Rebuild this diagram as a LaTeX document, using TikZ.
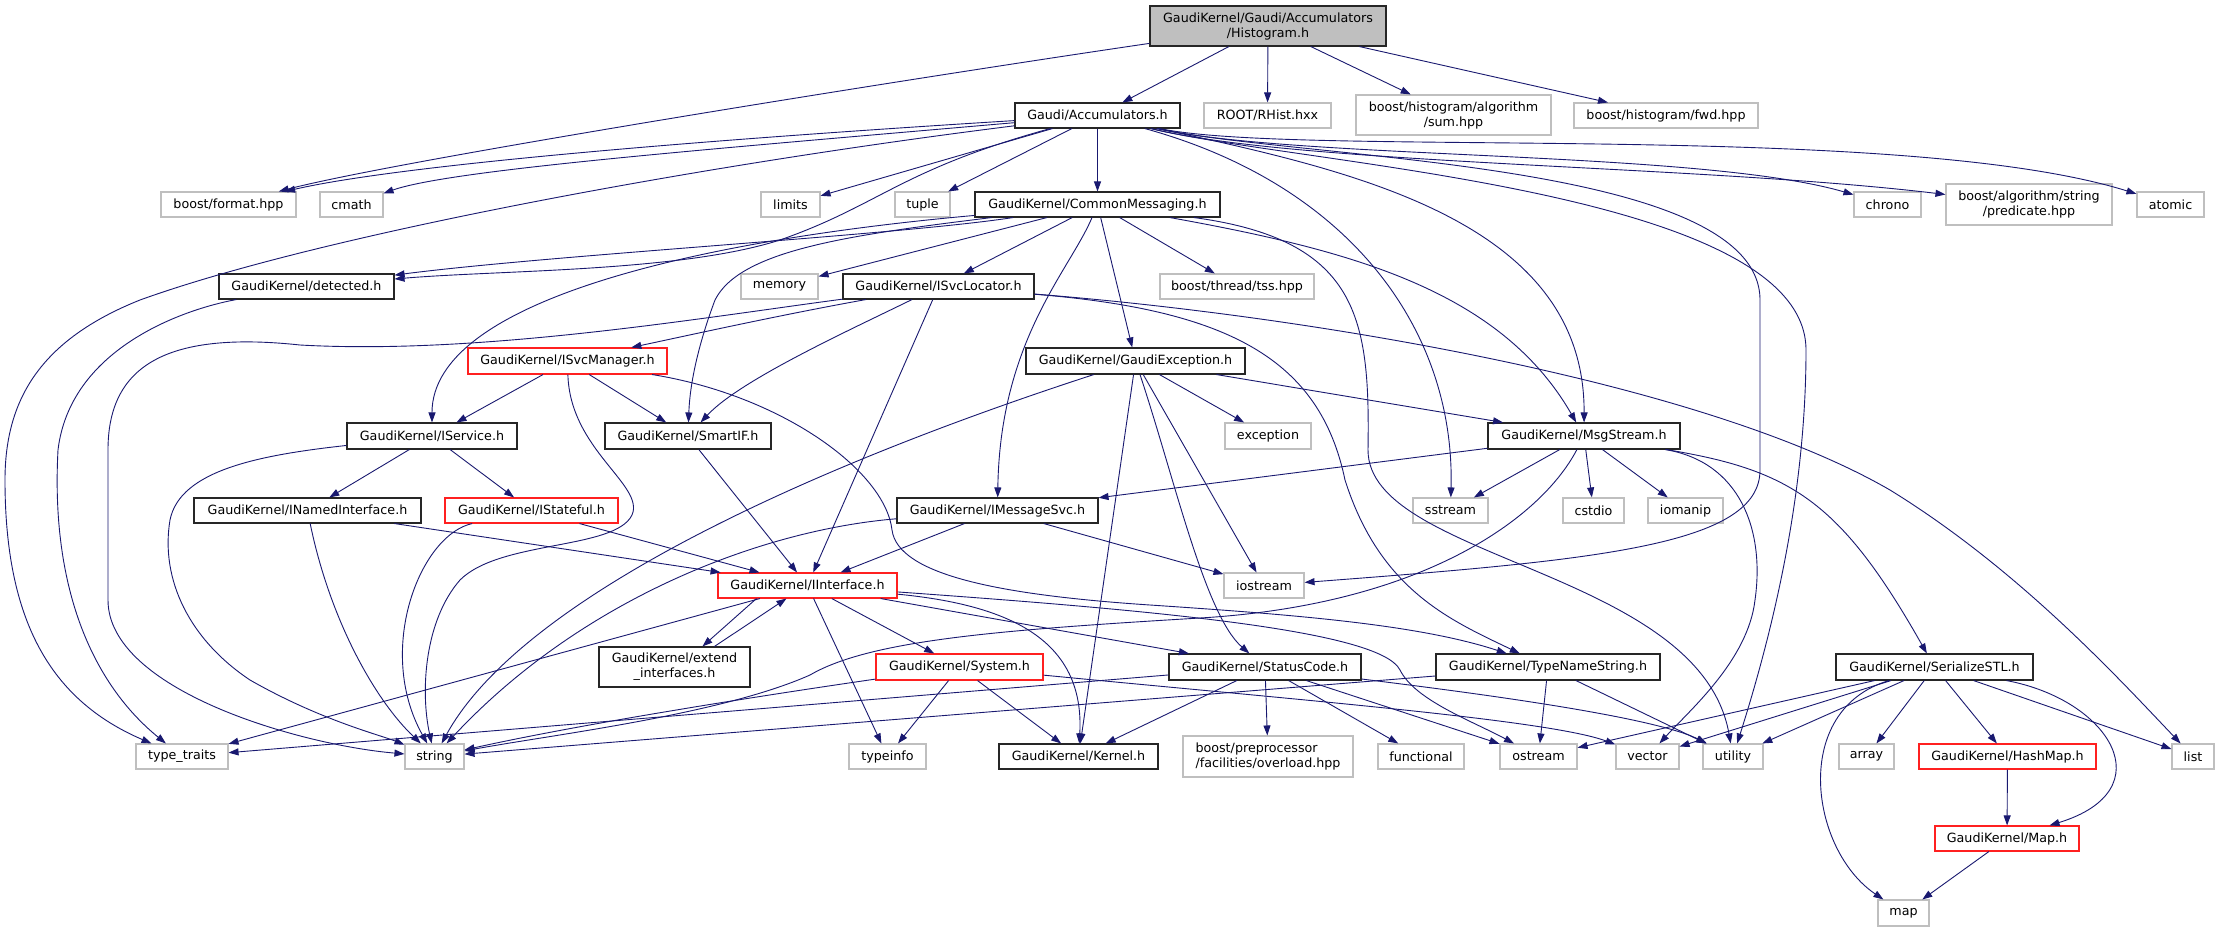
\documentclass[tikz,border=0pt]{standalone}
\usepackage{fontspec}
\setmainfont{DejaVu Sans}
\usetikzlibrary{arrows.meta}
\definecolor{midblue}{HTML}{191970}
\definecolor{grayl}{HTML}{BFBFBF}
\definecolor{redl}{HTML}{FF2020}
\newcommand\nd[7]{%
  \pgfmathsetmacro\ndw{#3-#2}%
  \pgfmathsetmacro\ndh{#5-#4}%
  \node[#6, minimum width=\ndw pt, minimum height=\ndh pt] (#1) at ({(#2+#3)/2},{(#4+#5)/2}) {#7};}
\tikzset{
  nbase/.style={draw, line width=1.1pt, inner sep=0pt, fill=white, font=\fontsize{12.7}{15}\selectfont},
  blk/.style={nbase, draw=black!85},
  gry/.style={nbase, draw=grayl},
  redb/.style={nbase, draw=redl},
  rootb/.style={nbase, draw=black!85, fill=grayl},
  conn/.style={draw=midblue, line width=0.9pt, -{Triangle[length=10pt,width=7pt]}},
}
\begin{document}
\begin{tikzpicture}[x=1pt,y=-1pt]
\fill[white] (0,0) rectangle (2220,932);
\useasboundingbox (0,0) rectangle (2220,932);
% nodes
\nd{hist}{1150}{1386}{6}{46}{rootb,align=center}{GaudiKernel/Gaudi/Accumulators\\/Histogram.h}
\nd{acc}{1015}{1180}{103}{128}{blk}{Gaudi/Accumulators.h}
\nd{rhist}{1204}{1331}{103}{128}{gry}{ROOT/RHist.hxx}
\nd{sum}{1356}{1551}{95}{135}{gry,align=center}{boost/histogram/algorithm\\/sum.hpp}
\nd{fwd}{1574}{1758}{103}{128}{gry}{boost/histogram/fwd.hpp}
\nd{format}{161}{296}{192}{217}{gry}{boost/format.hpp}
\nd{cmath}{320}{383}{192}{217}{gry}{cmath}
\nd{limits}{761}{820}{192}{217}{gry}{limits}
\nd{tuple}{895}{950}{192}{217}{gry}{tuple}
\nd{cm}{975}{1220}{192}{217}{blk}{GaudiKernel/CommonMessaging.h}
\nd{chrono}{1854}{1921}{192}{217}{gry}{chrono}
\nd{pred}{1946}{2112}{184}{225}{gry,align=center}{boost/algorithm/string\\/predicate.hpp}
\nd{atomic}{2137}{2204}{192}{217}{gry}{atomic}
\nd{detected}{219}{394}{274}{299}{blk}{GaudiKernel/detected.h}
\nd{memory}{741}{818}{274}{299}{gry}{memory}
\nd{isl}{843}{1034}{274}{299}{blk}{GaudiKernel/ISvcLocator.h}
\nd{tss}{1160}{1314}{274}{299}{gry}{boost/thread/tss.hpp}
\nd{ism}{468}{667}{348}{374}{redb}{GaudiKernel/ISvcManager.h}
\nd{gex}{1026}{1245}{348}{374}{blk}{GaudiKernel/GaudiException.h}
\nd{iservice}{347}{517}{423}{449}{blk}{GaudiKernel/IService.h}
\nd{smartif}{605}{771}{423}{449}{blk}{GaudiKernel/SmartIF.h}
\nd{exception}{1225}{1311}{423}{449}{gry}{exception}
\nd{msgstream}{1488}{1680}{423}{449}{blk}{GaudiKernel/MsgStream.h}
\nd{inamed}{194}{421}{498}{523}{blk}{GaudiKernel/INamedInterface.h}
\nd{istateful}{445}{618}{498}{523}{redb}{GaudiKernel/IStateful.h}
\nd{imsg}{897}{1098}{498}{523}{blk}{GaudiKernel/IMessageSvc.h}
\nd{sstream}{1413}{1488}{498}{523}{gry}{sstream}
\nd{cstdio}{1563}{1624}{498}{523}{gry}{cstdio}
\nd{iomanip}{1648}{1723}{498}{523}{gry}{iomanip}
\nd{iinterface}{718}{897}{573}{598}{redb}{GaudiKernel/IInterface.h}
\nd{iostream}{1224}{1304}{573}{598}{gry}{iostream}
\nd{extend}{599}{750}{647}{687}{blk,align=center}{GaudiKernel/extend\\\_interfaces.h}
\nd{system}{876}{1043}{654}{680}{redb}{GaudiKernel/System.h}
\nd{statuscode}{1169}{1361}{654}{680}{blk}{GaudiKernel/StatusCode.h}
\nd{tns}{1436}{1660}{654}{680}{blk}{GaudiKernel/TypeNameString.h}
\nd{serial}{1836}{2033}{654}{680}{blk}{GaudiKernel/SerializeSTL.h}
\nd{ttraits}{136}{228}{744}{769}{gry}{type\_traits}
\nd{str}{405}{464}{744}{769}{gry}{string}
\nd{typeinfo}{849}{926}{744}{769}{gry}{typeinfo}
\nd{kernel}{999}{1158}{744}{769}{blk}{GaudiKernel/Kernel.h}
\nd{overload}{1183}{1353}{736}{777}{gry,align=left}{boost/preprocessor\\/facilities/overload.hpp}
\nd{functional}{1378}{1464}{744}{769}{gry}{functional}
\nd{ostream}{1500}{1577}{744}{769}{gry}{ostream}
\nd{vector}{1616}{1679}{744}{769}{gry}{vector}
\nd{utility}{1703}{1763}{744}{769}{gry}{utility}
\nd{array}{1839}{1894}{744}{769}{gry}{array}
\nd{hashmap}{1919}{2096}{744}{769}{redb}{GaudiKernel/HashMap.h}
\nd{list}{2172}{2214}{744}{769}{gry}{list}
\nd{maph}{1935}{2079}{826}{851}{redb}{GaudiKernel/Map.h}
\nd{map}{1878}{1929}{900}{926}{gry}{map}
% edges: Histogram.h
\draw[conn] (hist) -- (acc);
\draw[conn] (hist) -- (rhist);
\draw[conn] (hist) -- (sum);
\draw[conn] (hist) -- (fwd);
\draw[conn] (hist) .. controls (900,80) and (400,160) .. (format);
% Accumulators.h
\draw[conn] (acc) .. controls (700,140) and (400,165) .. (format);
\draw[conn] (acc) .. controls (700,150) and (450,170) .. (cmath);
\draw[conn] (acc) -- (limits);
\draw[conn] (acc) -- (tuple);
\draw[conn] (acc) -- (cm);
\draw[conn] (acc) .. controls (900,170) and (880,205) .. (780,240) .. controls (680,272) and (500,270) .. (detected);
\draw[conn] (acc) .. controls (700,165) and (320,235) .. (140,300) .. controls (40,340) and (5,400) .. (5,480) .. controls (5,620) and (50,700) .. (ttraits);
\draw[conn] (acc) .. controls (1350,185) and (1455,330) .. (sstream);
\draw[conn] (acc) .. controls (1350,170) and (1585,220) .. (msgstream);
\draw[conn] (acc) .. controls (1300,160) and (1760,160) .. (1760,300) -- (1760,470) .. controls (1760,545) and (1600,560) .. (iostream);
\draw[conn] (acc) .. controls (1300,165) and (1806,190) .. (1806,350) .. controls (1806,500) and (1770,640) .. (utility);
\draw[conn] (acc) .. controls (1300,160) and (1700,150) .. (chrono);
\draw[conn] (acc) .. controls (1300,165) and (1700,165) .. (pred);
\draw[conn] (acc) .. controls (1300,158) and (1900,120) .. (atomic);
% detected.h
\draw[conn] (detected) .. controls (180,310) and (70,350) .. (58,450) .. controls (50,600) and (100,690) .. (ttraits);
% CommonMessaging.h
\draw[conn] (cm) .. controls (900,235) and (550,255) .. (detected);
\draw[conn] (cm) -- (memory);
\draw[conn] (cm) -- (isl);
\draw[conn] (cm) -- (tss);
\draw[conn] (cm) -- (gex);
\draw[conn] (cm) .. controls (1070,270) and (1000,340) .. (imsg);
\draw[conn] (cm) .. controls (700,240) and (432,300) .. (iservice);
\draw[conn] (cm) .. controls (850,235) and (740,250) .. (715,300) .. controls (700,340) and (690,380) .. (smartif);
\draw[conn] (cm) .. controls (1350,250) and (1500,290) .. (msgstream);
\draw[conn] (cm) .. controls (1360,240) and (1370,320) .. (1368,450) .. controls (1368,560) and (1700,570) .. (utility);
% ISvcLocator.h
\draw[conn] (isl) .. controls (780,315) and (690,335) .. (ism);
\draw[conn] (isl) .. controls (850,330) and (740,380) .. (smartif);
\draw[conn] (isl) -- (iinterface);
\draw[conn] (isl) .. controls (1230,310) and (1320,360) .. (1345,480) .. controls (1380,590) and (1450,620) .. (tns);
\draw[conn] (isl) .. controls (1300,315) and (1700,380) .. (1890,490) .. controls (2020,570) and (2120,680) .. (list);
\draw[conn] (isl) .. controls (700,318) and (480,355) .. (300,345) .. controls (160,330) and (108,370) .. (108,450) -- (108,600) .. controls (108,690) and (300,745) .. (str);
% ISvcManager.h
\draw[conn] (ism) -- (iservice);
\draw[conn] (ism) -- (smartif);
\draw[conn] (ism) .. controls (570,450) and (645,485) .. (632,515) .. controls (615,550) and (500,540) .. (460,580) .. controls (425,620) and (420,690) .. (str);
\draw[conn] (ism) .. controls (780,395) and (885,470) .. (892,530) .. controls (898,575) and (1000,595) .. (1150,605) .. controls (1300,615) and (1420,625) .. (tns);
% GaudiException.h
\draw[conn] (gex) .. controls (800,470) and (520,600) .. (str);
\draw[conn] (gex) -- (kernel);
\draw[conn] (gex) .. controls (1175,480) and (1205,615) .. (statuscode);
\draw[conn] (gex) -- (iostream);
\draw[conn] (gex) -- (exception);
\draw[conn] (gex) -- (msgstream);
% IService.h
\draw[conn] (iservice) -- (inamed);
\draw[conn] (iservice) -- (istateful);
\draw[conn] (iservice) .. controls (260,455) and (180,470) .. (170,520) .. controls (160,580) and (190,640) .. (250,680) .. controls (320,720) and (380,735) .. (str);
% INamedInterface.h, IStateful.h, SmartIF.h
\draw[conn] (inamed) -- (iinterface);
\draw[conn] (inamed) .. controls (330,620) and (375,700) .. (str);
\draw[conn] (istateful) -- (iinterface);
\draw[conn] (istateful) .. controls (420,535) and (375,650) .. (str);
\draw[conn] (smartif) -- (iinterface);
% IMessageSvc.h
\draw[conn] (imsg) -- (iinterface);
\draw[conn] (imsg) .. controls (760,530) and (580,600) .. (str);
\draw[conn] (imsg) -- (iostream);
% MsgStream.h
\draw[conn] (msgstream) -- (imsg);
\draw[conn] (msgstream) -- (sstream);
\draw[conn] (msgstream) -- (cstdio);
\draw[conn] (msgstream) -- (iomanip);
\draw[conn] (msgstream) .. controls (1540,520) and (1420,605) .. (1200,618) .. controls (1000,630) and (870,640) .. (810,675) .. controls (720,715) and (550,735) .. (str);
\draw[conn] (msgstream) .. controls (1740,462) and (1765,530) .. (1755,600) .. controls (1748,660) and (1690,710) .. (vector);
\draw[conn] (msgstream) .. controls (1790,470) and (1840,500) .. (serial);
% IInterface.h
\draw[conn] ([xshift=39pt]iinterface.south west) -- ([xshift=104pt]extend.north west);
\draw[conn] ([xshift=116pt]extend.north west) -- ([xshift=69pt]iinterface.south west);
\draw[conn] (iinterface) -- (ttraits);
\draw[conn] (iinterface) -- (typeinfo);
\draw[conn] (iinterface) -- (system);
\draw[conn] (iinterface) .. controls (1010,605) and (1085,640) .. (kernel);
\draw[conn] (iinterface) -- (statuscode);
\draw[conn] (iinterface) .. controls (1150,610) and (1380,630) .. (1400,670) .. controls (1415,700) and (1470,720) .. (ostream);
% System.h
\draw[conn] (system) -- (typeinfo);
\draw[conn] (system) -- (kernel);
\draw[conn] (system) .. controls (800,690) and (600,720) .. (str);
\draw[conn] (system) .. controls (1300,700) and (1550,720) .. (vector);
% StatusCode.h
\draw[conn] (statuscode) -- (kernel);
\draw[conn] (statuscode) -- (overload);
\draw[conn] (statuscode) -- (functional);
\draw[conn] (statuscode) -- (ostream);
\draw[conn] (statuscode) .. controls (1450,690) and (1650,715) .. (utility);
\draw[conn] (statuscode) -- (ttraits);
% TypeNameString.h
\draw[conn] (tns) -- (str);
\draw[conn] (tns) -- (ostream);
\draw[conn] (tns) -- (utility);
% SerializeSTL.h
\draw[conn] (serial) -- (ostream);
\draw[conn] (serial) -- (vector);
\draw[conn] (serial) -- (utility);
\draw[conn] (serial) .. controls (1790,710) and (1810,850) .. (map);
\draw[conn] (serial) -- (array);
\draw[conn] (serial) -- (hashmap);
\draw[conn] (serial) -- (list);
\draw[conn] (serial) .. controls (2110,700) and (2165,790) .. (maph);
% HashMap.h, Map.h
\draw[conn] (hashmap) -- (maph);
\draw[conn] (maph) -- (map);
\end{tikzpicture}
\end{document}
